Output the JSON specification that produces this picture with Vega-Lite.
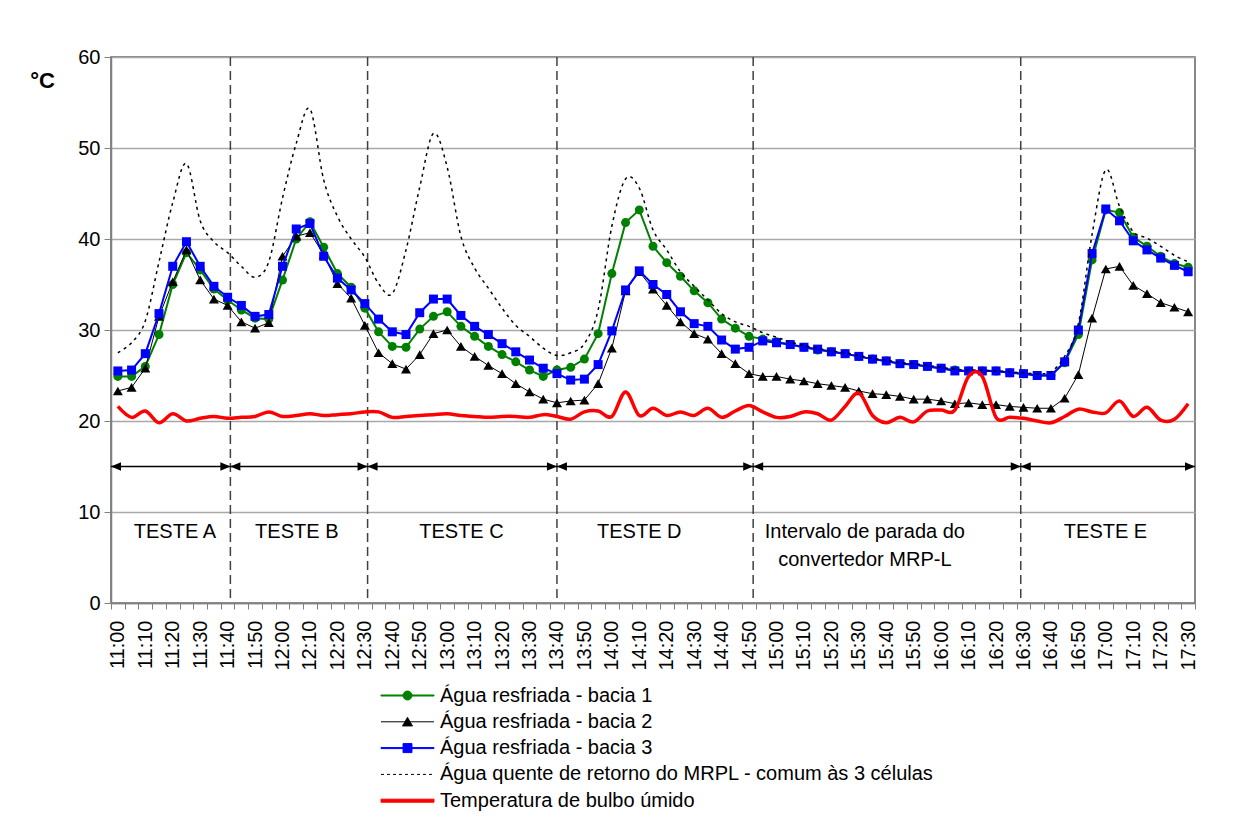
{
  "$schema": "https://vega.github.io/schema/vega-lite/v6.json",
  "width": 1084,
  "height": 546,
  "autosize": {"type": "none"},
  "padding": {"left": 111, "top": 57, "right": 40, "bottom": 216},
  "background": "white",
  "config": {
    "font": "Liberation Sans",
    "view": {"stroke": "#606060", "strokeWidth": 1.5},
    "axis": {"labelColor": "#000000", "titleColor": "#000000", "labelFont": "Liberation Sans", "titleFont": "Liberation Sans"},
    "axisX": {"labelOverlap": false, "labelFlush": false, "labelBound": false}
  },
  "resolve": {"scale": {"x": "shared", "y": "shared"}, "axis": {"x": "independent"}},
  "datasets": {
    "temps": [
      {"m": 0, "b1": 24.9, "b2": 23.3, "b3": 25.5, "q": 27.5, "wb": 21.6},
      {"m": 5, "b1": 24.9, "b2": 23.7, "b3": 25.6, "q": 28.6, "wb": 20.4},
      {"m": 10, "b1": 26.0, "b2": 25.8, "b3": 27.4, "q": 31.0, "wb": 21.1},
      {"m": 15, "b1": 29.5, "b2": 31.5, "b3": 31.8, "q": 37.5, "wb": 19.8},
      {"m": 20, "b1": 35.0, "b2": 35.3, "b3": 37.0, "q": 44.0, "wb": 20.8},
      {"m": 25, "b1": 38.5, "b2": 38.8, "b3": 39.7, "q": 48.3, "wb": 20.0},
      {"m": 30, "b1": 36.6, "b2": 35.5, "b3": 37.0, "q": 42.0, "wb": 20.3},
      {"m": 35, "b1": 34.5, "b2": 33.4, "b3": 34.8, "q": 39.7, "wb": 20.5},
      {"m": 40, "b1": 33.3, "b2": 32.7, "b3": 33.6, "q": 38.5, "wb": 20.3},
      {"m": 45, "b1": 32.2, "b2": 30.9, "b3": 32.7, "q": 37.0, "wb": 20.4},
      {"m": 50, "b1": 31.3, "b2": 30.2, "b3": 31.5, "q": 35.8, "wb": 20.5},
      {"m": 55, "b1": 31.2, "b2": 30.8, "b3": 31.7, "q": 37.5, "wb": 21.0},
      {"m": 60, "b1": 35.5, "b2": 38.1, "b3": 37.0, "q": 44.5, "wb": 20.5},
      {"m": 65, "b1": 40.0, "b2": 40.3, "b3": 41.1, "q": 50.5, "wb": 20.6},
      {"m": 70, "b1": 41.9, "b2": 40.7, "b3": 41.7, "q": 54.3, "wb": 20.8},
      {"m": 75, "b1": 39.1, "b2": 38.3, "b3": 38.1, "q": 46.5, "wb": 20.6},
      {"m": 80, "b1": 36.2, "b2": 35.1, "b3": 35.7, "q": 42.5, "wb": 20.7},
      {"m": 85, "b1": 34.7, "b2": 33.5, "b3": 34.4, "q": 40.0, "wb": 20.8},
      {"m": 90, "b1": 32.4, "b2": 30.5, "b3": 32.9, "q": 38.0, "wb": 21.0},
      {"m": 95, "b1": 29.8, "b2": 27.5, "b3": 31.2, "q": 35.1, "wb": 21.0},
      {"m": 100, "b1": 28.2, "b2": 26.3, "b3": 29.8, "q": 34.0, "wb": 20.4},
      {"m": 105, "b1": 28.1, "b2": 25.7, "b3": 29.5, "q": 38.8, "wb": 20.5},
      {"m": 110, "b1": 30.1, "b2": 27.3, "b3": 31.9, "q": 45.7, "wb": 20.6},
      {"m": 115, "b1": 31.5, "b2": 29.6, "b3": 33.4, "q": 51.6, "wb": 20.7},
      {"m": 120, "b1": 32.0, "b2": 30.0, "b3": 33.4, "q": 47.9, "wb": 20.8},
      {"m": 125, "b1": 30.4, "b2": 28.2, "b3": 31.6, "q": 40.3, "wb": 20.6},
      {"m": 130, "b1": 29.3, "b2": 27.1, "b3": 30.4, "q": 36.8, "wb": 20.5},
      {"m": 135, "b1": 28.2, "b2": 26.1, "b3": 29.5, "q": 34.6, "wb": 20.4},
      {"m": 140, "b1": 27.3, "b2": 25.2, "b3": 28.5, "q": 32.4, "wb": 20.5},
      {"m": 145, "b1": 26.5, "b2": 24.1, "b3": 27.6, "q": 30.5, "wb": 20.5},
      {"m": 150, "b1": 25.6, "b2": 23.2, "b3": 26.7, "q": 29.3, "wb": 20.4},
      {"m": 155, "b1": 24.9, "b2": 22.4, "b3": 25.8, "q": 28.0, "wb": 20.7},
      {"m": 160, "b1": 25.6, "b2": 22.0, "b3": 25.2, "q": 27.2, "wb": 20.5},
      {"m": 165, "b1": 25.9, "b2": 22.2, "b3": 24.5, "q": 27.5, "wb": 20.2},
      {"m": 170, "b1": 26.8, "b2": 22.3, "b3": 24.6, "q": 28.5, "wb": 21.0},
      {"m": 175, "b1": 29.6, "b2": 24.1, "b3": 26.2, "q": 32.2, "wb": 21.1},
      {"m": 180, "b1": 36.2, "b2": 28.0, "b3": 29.9, "q": 41.4, "wb": 20.5},
      {"m": 185, "b1": 41.8, "b2": 34.3, "b3": 34.4, "q": 46.6, "wb": 23.2},
      {"m": 190, "b1": 43.2, "b2": 36.4, "b3": 36.5, "q": 45.6, "wb": 20.6},
      {"m": 195, "b1": 39.2, "b2": 34.5, "b3": 35.0, "q": 41.0, "wb": 21.4},
      {"m": 200, "b1": 37.4, "b2": 32.7, "b3": 33.9, "q": 38.8, "wb": 20.6},
      {"m": 205, "b1": 35.9, "b2": 30.9, "b3": 32.0, "q": 36.4, "wb": 21.0},
      {"m": 210, "b1": 34.3, "b2": 29.6, "b3": 30.7, "q": 34.8, "wb": 20.6},
      {"m": 215, "b1": 33.0, "b2": 29.0, "b3": 30.4, "q": 33.3, "wb": 21.4},
      {"m": 220, "b1": 31.2, "b2": 27.4, "b3": 28.9, "q": 31.8, "wb": 20.4},
      {"m": 225, "b1": 30.2, "b2": 26.3, "b3": 27.9, "q": 30.9, "wb": 21.1},
      {"m": 230, "b1": 29.3, "b2": 25.2, "b3": 28.1, "q": 30.4, "wb": 21.7},
      {"m": 235, "b1": 29.0, "b2": 24.9, "b3": 28.8, "q": 29.7, "wb": 21.0},
      {"m": 240, "b1": 28.7, "b2": 24.9, "b3": 28.6, "q": 29.2, "wb": 20.4},
      {"m": 245, "b1": 28.4, "b2": 24.6, "b3": 28.4, "q": 28.7, "wb": 20.5},
      {"m": 250, "b1": 28.1, "b2": 24.4, "b3": 28.1, "q": 28.3, "wb": 21.0},
      {"m": 255, "b1": 27.8, "b2": 24.1, "b3": 27.9, "q": 28.0, "wb": 20.8},
      {"m": 260, "b1": 27.6, "b2": 23.9, "b3": 27.6, "q": 27.7, "wb": 20.1},
      {"m": 265, "b1": 27.4, "b2": 23.7, "b3": 27.4, "q": 27.5, "wb": 21.6},
      {"m": 270, "b1": 27.1, "b2": 23.3, "b3": 27.1, "q": 27.2, "wb": 23.1},
      {"m": 275, "b1": 26.8, "b2": 23.0, "b3": 26.8, "q": 26.9, "wb": 20.6},
      {"m": 280, "b1": 26.6, "b2": 22.9, "b3": 26.6, "q": 26.7, "wb": 19.8},
      {"m": 285, "b1": 26.3, "b2": 22.7, "b3": 26.3, "q": 26.4, "wb": 20.4},
      {"m": 290, "b1": 26.2, "b2": 22.4, "b3": 26.2, "q": 26.3, "wb": 19.9},
      {"m": 295, "b1": 26.0, "b2": 22.4, "b3": 26.0, "q": 26.1, "wb": 21.1},
      {"m": 300, "b1": 25.8, "b2": 22.2, "b3": 25.8, "q": 25.9, "wb": 21.2},
      {"m": 305, "b1": 25.6, "b2": 21.9, "b3": 25.5, "q": 25.7, "wb": 21.2},
      {"m": 310, "b1": 25.5, "b2": 22.0, "b3": 25.5, "q": 25.6, "wb": 24.9},
      {"m": 315, "b1": 25.5, "b2": 21.8, "b3": 25.5, "q": 25.6, "wb": 24.9},
      {"m": 320, "b1": 25.5, "b2": 21.8, "b3": 25.5, "q": 25.5, "wb": 20.4},
      {"m": 325, "b1": 25.3, "b2": 21.6, "b3": 25.3, "q": 25.4, "wb": 20.4},
      {"m": 330, "b1": 25.2, "b2": 21.5, "b3": 25.2, "q": 25.3, "wb": 20.3},
      {"m": 335, "b1": 25.0, "b2": 21.4, "b3": 25.0, "q": 25.2, "wb": 20.0},
      {"m": 340, "b1": 25.0, "b2": 21.4, "b3": 25.0, "q": 25.4, "wb": 19.8},
      {"m": 345, "b1": 26.4, "b2": 22.5, "b3": 26.5, "q": 27.1, "wb": 20.5},
      {"m": 350, "b1": 29.5, "b2": 25.1, "b3": 30.0, "q": 30.7, "wb": 21.3},
      {"m": 355, "b1": 37.7, "b2": 31.3, "b3": 38.4, "q": 40.5, "wb": 21.0},
      {"m": 360, "b1": 43.2, "b2": 36.7, "b3": 43.3, "q": 47.6, "wb": 20.9},
      {"m": 365, "b1": 42.9, "b2": 37.0, "b3": 42.0, "q": 43.6, "wb": 22.2},
      {"m": 370, "b1": 40.2, "b2": 34.9, "b3": 39.8, "q": 40.8, "wb": 20.5},
      {"m": 375, "b1": 39.2, "b2": 34.0, "b3": 38.8, "q": 40.1, "wb": 21.5},
      {"m": 380, "b1": 38.1, "b2": 33.0, "b3": 37.9, "q": 39.2, "wb": 20.1},
      {"m": 385, "b1": 37.3, "b2": 32.5, "b3": 37.1, "q": 38.2, "wb": 20.2},
      {"m": 390, "b1": 36.9, "b2": 32.0, "b3": 36.4, "q": 37.5, "wb": 21.9}
    ],
    "tests": [
      {"a": -2.5, "b": 41},
      {"a": 41, "b": 91},
      {"a": 91, "b": 160},
      {"a": 160, "b": 231.5},
      {"a": 231.5, "b": 329},
      {"a": 329, "b": 392.5}
    ],
    "dividers": [
      {"m": 41}, {"m": 91}, {"m": 160}, {"m": 231.5}, {"m": 329}
    ],
    "notes": [
      {"txt": "TESTE A", "m": 20.8, "v": 7.8},
      {"txt": "TESTE B", "m": 65.2, "v": 7.8},
      {"txt": "TESTE C", "m": 125.2, "v": 7.8},
      {"txt": "TESTE D", "m": 190.0, "v": 7.8},
      {"txt": "Intervalo de parada do", "m": 272.2, "v": 7.8},
      {"txt": "convertedor MRP-L", "m": 272.2, "v": 4.7},
      {"txt": "TESTE E", "m": 359.9, "v": 7.8}
    ]
  },
  "layer": [
    {
      "data": {"name": "dividers"},
      "mark": {"type": "rule", "color": "#404040", "strokeWidth": 1.5, "strokeDash": [9, 5]},
      "encoding": {
        "x": {
          "field": "m", "type": "quantitative", "title": null,
          "scale": {"domain": [-2.5, 392.5], "nice": false, "zero": false},
          "axis": {
            "orient": "bottom",
            "values": [0, 10, 20, 30, 40, 50, 60, 70, 80, 90, 100, 110, 120, 130, 140, 150, 160, 170, 180, 190, 200, 210, 220, 230, 240, 250, 260, 270, 280, 290, 300, 310, 320, 330, 340, 350, 360, 370, 380, 390],
            "labelExpr": "(11 + floor(datum.value / 60)) + ':' + (datum.value % 60 === 0 ? '00' : (datum.value % 60))",
            "labelAngle": -90,
            "labelFontSize": 20,
            "labelPadding": 11,
            "labelOverlap": false,
            "labelFlush": false,
            "ticks": true,
            "tickSize": 6,
            "tickOpacity": 0,
            "domain": false,
            "grid": false
          }
        }
      }
    },
    {
      "data": {"name": "tests"},
      "mark": {"type": "rule", "color": "#000000", "strokeWidth": 1.5},
      "encoding": {
        "x": {
          "field": "a", "type": "quantitative", "title": null,
          "axis": {
            "orient": "bottom",
            "values": [-2.5, 2.5, 7.5, 12.5, 17.5, 22.5, 27.5, 32.5, 37.5, 42.5, 47.5, 52.5, 57.5, 62.5, 67.5, 72.5, 77.5, 82.5, 87.5, 92.5, 97.5, 102.5, 107.5, 112.5, 117.5, 122.5, 127.5, 132.5, 137.5, 142.5, 147.5, 152.5, 157.5, 162.5, 167.5, 172.5, 177.5, 182.5, 187.5, 192.5, 197.5, 202.5, 207.5, 212.5, 217.5, 222.5, 227.5, 232.5, 237.5, 242.5, 247.5, 252.5, 257.5, 262.5, 267.5, 272.5, 277.5, 282.5, 287.5, 292.5, 297.5, 302.5, 307.5, 312.5, 317.5, 322.5, 327.5, 332.5, 337.5, 342.5, 347.5, 352.5, 357.5, 362.5, 367.5, 372.5, 377.5, 382.5, 387.5, 392.5],
            "labels": false,
            "ticks": true,
            "tickSize": 6,
            "tickColor": "#808080",
            "tickWidth": 1,
            "domain": true,
            "domainColor": "#808080",
            "domainWidth": 1.5,
            "grid": false
          }
        },
        "x2": {"field": "b"},
        "y": {"datum": 15}
      }
    },
    {
      "data": {"name": "tests"},
      "mark": {"type": "point", "shape": "M0,0L2,-0.85L2,0.85Z", "size": 100, "filled": true, "opacity": 1, "color": "#000000", "strokeWidth": 0},
      "encoding": {
        "x": {"field": "a", "type": "quantitative", "title": null, "axis": null},
        "y": {"datum": 15}
      }
    },
    {
      "data": {"name": "tests"},
      "mark": {"type": "point", "shape": "M0,0L-2,-0.85L-2,0.85Z", "size": 100, "filled": true, "opacity": 1, "color": "#000000", "strokeWidth": 0},
      "encoding": {
        "x": {"field": "b", "type": "quantitative", "title": null, "axis": null},
        "y": {"datum": 15}
      }
    },
    {
      "data": {"name": "notes"},
      "mark": {"type": "text", "fontSize": 20, "align": "center", "baseline": "middle", "color": "#000000"},
      "encoding": {
        "x": {"field": "m", "type": "quantitative", "title": null, "axis": null},
        "y": {"field": "v", "type": "quantitative", "title": "°C"},
        "text": {"field": "txt"}
      }
    },
    {
      "mark": {"type": "text", "fontSize": 17, "fontWeight": "bold", "align": "right", "baseline": "middle", "color": "#000000"},
      "encoding": {
        "x": {"datum": 389.7, "axis": null},
        "y": {"datum": 2.4},
        "text": {"value": "17/09/2010"}
      }
    },
    {
      "data": {"name": "temps"},
      "mark": {"type": "line", "strokeWidth": 2},
      "encoding": {
        "x": {"field": "m", "type": "quantitative", "title": null, "axis": null},
        "y": {
          "field": "b1", "type": "quantitative", "title": "°C",
          "scale": {"domain": [0, 60], "nice": false},
          "axis": {
            "values": [0, 10, 20, 30, 40, 50, 60],
            "labelFontSize": 20,
            "labelPadding": 4,
            "tickSize": 7,
            "tickColor": "#808080",
            "domainColor": "#808080",
            "domainWidth": 1.5,
            "grid": true,
            "gridColor": "#a8a8a8",
            "gridWidth": 1.5,
            "titleFontSize": 22,
            "titleFontWeight": "bold",
            "titleAngle": 0,
            "titleX": -69,
            "titleY": 23,
            "titleAlign": "center",
            "titleBaseline": "middle"
          }
        },
        "color": {
          "datum": "b1",
          "type": "nominal",
          "scale": {"domain": ["b1", "b2", "b3", "q", "wb"], "range": ["#008000", "#000000", "#0000ff", "#000000", "#ff0000"]},
          "legend": {
            "orient": "none",
            "legendX": 286,
            "legendY": 628,
            "direction": "vertical",
            "title": null,
            "padding": 0,
            "symbolSize": 400,
            "symbolStrokeWidth": 1,
            "labelOffset": 22,
            "labelFontSize": 20,
            "labelColor": "#000000",
            "labelLimit": 800,
            "rowPadding": 5.3,
            "labelExpr": "datum.label === 'b1' ? 'Água resfriada - bacia 1' : datum.label === 'b2' ? 'Água resfriada - bacia 2' : datum.label === 'b3' ? 'Água resfriada - bacia 3' : datum.label === 'q' ? 'Água quente de retorno do MRPL - comum às 3 células' : 'Temperatura de bulbo úmido'",
            "encode": {
              "symbols": {
                "update": {
                  "shape": {"signal": "['M-2.65,-0.05L2.65,-0.05L2.65,0.05L-2.65,0.05ZM0.45,0A0.45,0.45,0,1,1,-0.45,0A0.45,0.45,0,1,1,0.45,0Z', 'M-2.65,0L2.65,0M0,-0.45L0.5,0.42L-0.5,0.42Z', 'M-2.65,-0.05L2.65,-0.05L2.65,0.05L-2.65,0.05ZM-0.45,-0.45L0.45,-0.45L0.45,0.45L-0.45,0.45Z', 'M-2.65,0L2.65,0', 'M-2.65,-0.15L2.65,-0.15L2.65,0.15L-2.65,0.15Z'][datum.index]"},
                  "fill": {"signal": "['#008000', '#000000', '#0000ff', 'transparent', '#ff0000'][datum.index]"},
                  "fillOpacity": {"value": 1},
                  "stroke": {"signal": "['#008000', '#000000', '#0000ff', '#000000', '#ff0000'][datum.index]"},
                  "strokeDash": {"signal": "datum.index === 3 ? [3, 3] : [1, 0]"},
                  "opacity": {"value": 1}
                }
              }
            }
          }
        }
      }
    },
    {
      "data": {"name": "temps"},
      "mark": {"type": "point", "shape": "circle", "size": 81, "filled": true, "opacity": 1, "color": "#008000"},
      "encoding": {
        "x": {"field": "m", "type": "quantitative", "title": null, "axis": null},
        "y": {"field": "b1", "type": "quantitative", "title": "°C"}
      }
    },
    {
      "data": {"name": "temps"},
      "mark": {"type": "line", "strokeWidth": 1},
      "encoding": {
        "x": {"field": "m", "type": "quantitative", "title": null, "axis": null},
        "y": {"field": "b2", "type": "quantitative", "title": "°C"},
        "color": {"datum": "b2", "type": "nominal"}
      }
    },
    {
      "data": {"name": "temps"},
      "mark": {"type": "point", "shape": "triangle-up", "size": 100, "filled": true, "opacity": 1, "color": "#000000"},
      "encoding": {
        "x": {"field": "m", "type": "quantitative", "title": null, "axis": null},
        "y": {"field": "b2", "type": "quantitative", "title": "°C"}
      }
    },
    {
      "data": {"name": "temps"},
      "mark": {"type": "line", "strokeWidth": 2},
      "encoding": {
        "x": {"field": "m", "type": "quantitative", "title": null, "axis": null},
        "y": {"field": "b3", "type": "quantitative", "title": "°C"},
        "color": {"datum": "b3", "type": "nominal"}
      }
    },
    {
      "data": {"name": "temps"},
      "mark": {"type": "point", "shape": "square", "size": 81, "filled": true, "opacity": 1, "color": "#0000ff"},
      "encoding": {
        "x": {"field": "m", "type": "quantitative", "title": null, "axis": null},
        "y": {"field": "b3", "type": "quantitative", "title": "°C"}
      }
    },
    {
      "data": {"name": "temps"},
      "mark": {"type": "line", "strokeWidth": 1.5, "strokeDash": [3, 4], "interpolate": "cardinal"},
      "encoding": {
        "x": {"field": "m", "type": "quantitative", "title": null, "axis": null},
        "y": {"field": "q", "type": "quantitative", "title": "°C"},
        "color": {"datum": "q", "type": "nominal"}
      }
    },
    {
      "data": {"name": "temps"},
      "mark": {"type": "line", "strokeWidth": 3.5, "interpolate": "cardinal"},
      "encoding": {
        "x": {"field": "m", "type": "quantitative", "title": null, "axis": null},
        "y": {"field": "wb", "type": "quantitative", "title": "°C"},
        "color": {"datum": "wb", "type": "nominal"}
      }
    }
  ]
}
